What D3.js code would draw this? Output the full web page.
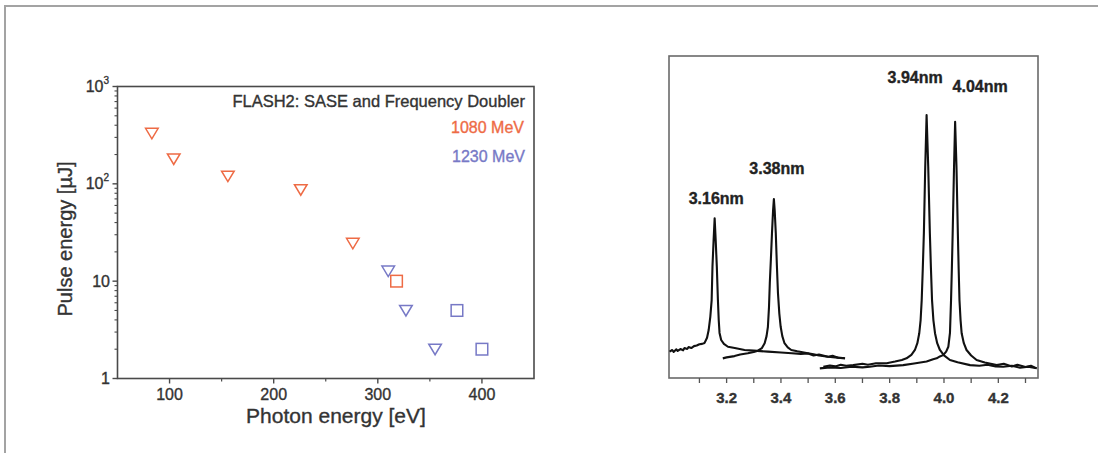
<!DOCTYPE html>
<html><head><meta charset="utf-8">
<script src="https://cdn.jsdelivr.net/npm/d3@7"></script>
<style>
body{margin:0;background:#fff;}
svg{display:block;font-family:"Liberation Sans",Arial,Helvetica,sans-serif;}
text{paint-order:stroke;stroke-width:0.35px;}
</style></head>
<body>
<svg id="c" width="1098" height="455"></svg>
<script>
// ---------- Left chart data: pulse energy vs photon energy ----------
const orangeTriX = [83, 104, 156, 226, 276];
const orangeTriY = [330, 180, 120, 87, 24.5];
const orangeSqX = [318];
const orangeSqY = [10];
const blueTriX = [310, 327, 355];
const blueTriY = [12.7, 5.0, 2.0];
const blueSqX = [376, 400];
const blueSqY = [5.0, 2.0];
const leftXTicks = [100, 200, 300, 400];
const leftXMinor = [150, 250, 350];
const leftYTicks = [1, 10, 100, 1000];
const leftYTickLabels = [["1",""], ["10",""], ["10","2"], ["10","3"]];
const legendTitle = "FLASH2: SASE and Frequency Doubler";
const legendSeries = ["1080 MeV", "1230 MeV"];

// ---------- Right chart data: spectra (wavelength nm, intensity a.u.) ----------
const spec316 = [[2.99,8.2],[3.00,8.7],[3.005,8.1],[3.015,8.9],[3.02,8.4],[3.03,9.0],[3.04,8.6],[3.045,9.3],[3.055,9.0],[3.06,9.6],[3.07,9.3],[3.08,9.9],[3.09,10.1],[3.10,10.5],[3.11,10.6],[3.119,10.9],[3.128,12.5],[3.134,14.9],[3.140,19],[3.145,24.2],[3.148,34.6],[3.152,42.5],[3.156,49.6],[3.160,42.5],[3.164,34.6],[3.168,24.2],[3.171,18],[3.174,14.0],[3.180,11.8],[3.19,10.6],[3.205,9.7],[3.23,9.3],[3.266,8.7],[3.30,8.5],[3.352,8.2],[3.40,7.9],[3.44,7.7],[3.473,7.5],[3.50,7.6],[3.52,7.0],[3.54,7.3],[3.573,6.6],[3.59,6.9],[3.61,6.3],[3.634,6.2]];
const spec338 = [[3.186,6.1],[3.20,6.4],[3.229,6.8],[3.25,7.3],[3.278,7.7],[3.30,8.1],[3.315,8.5],[3.33,9.3],[3.340,10.8],[3.347,13],[3.352,15.9],[3.356,22],[3.359,29.5],[3.363,37],[3.367,45.0],[3.371,52],[3.374,55.6],[3.377,52],[3.381,45.0],[3.385,35],[3.389,26.4],[3.394,20],[3.399,15.9],[3.405,13],[3.413,10.8],[3.425,9.5],[3.438,8.7],[3.46,8.3],[3.499,7.7],[3.52,7.4],[3.54,7.0],[3.573,6.6],[3.60,6.4],[3.636,6.1]];
const spec394 = [[3.556,3.5],[3.58,3.9],[3.60,3.6],[3.62,4.1],[3.64,3.8],[3.666,4.0],[3.70,4.4],[3.72,4.1],[3.75,4.6],[3.789,4.6],[3.82,5.1],[3.845,5.6],[3.862,6.1],[3.88,7.2],[3.893,8.7],[3.902,10.8],[3.909,13.9],[3.914,18],[3.918,24.2],[3.922,34],[3.926,45.0],[3.931,65.6],[3.936,81.7],[3.942,65.6],[3.948,45.0],[3.952,34],[3.956,24.2],[3.961,18],[3.967,13.9],[3.975,10.8],[3.985,8.7],[4.00,7.0],[4.022,5.6],[4.05,4.9],[4.096,4.0],[4.13,3.8],[4.16,4.1],[4.19,3.6],[4.218,3.5],[4.25,3.8],[4.28,3.2],[4.31,3.5],[4.341,3.0]];
const spec404 = [[3.543,3.0],[3.58,3.3],[3.62,3.1],[3.66,3.5],[3.70,3.3],[3.727,3.5],[3.76,3.9],[3.80,3.7],[3.850,4.0],[3.89,4.5],[3.936,5.1],[3.96,5.8],[3.973,6.1],[3.985,6.7],[3.997,7.1],[4.008,8.2],[4.016,9.7],[4.022,14.0],[4.026,24.2],[4.029,34],[4.032,45.0],[4.037,65.6],[4.041,79.6],[4.046,65.6],[4.051,45.0],[4.054,34],[4.057,24.2],[4.061,18],[4.065,13.9],[4.073,10.8],[4.083,8.7],[4.10,7.0],[4.120,5.6],[4.15,4.8],[4.194,4.0],[4.22,4.4],[4.25,3.6],[4.27,4.1],[4.30,3.4],[4.32,3.8],[4.341,3.0]];
const peakLabels = ["3.16nm", "3.38nm", "3.94nm", "4.04nm"];
const peakLabelX = [3.162, 3.385, 3.894, 4.133];
const peakLabelV = [54, 63.5, 91.5, 88.8];
const rightMajor = [3.2, 3.4, 3.6, 3.8, 4.0, 4.2];
const rightMinor = [3.1, 3.2, 3.3, 3.4, 3.5, 3.6, 3.7, 3.8, 3.9, 4.0, 4.1, 4.2, 4.3];

const svg = d3.select("#c");
const ORANGE = "#ee6b45", BLUE = "#7779c6";

// outer frame
svg.append("path").attr("d","M5,453 L5,6 L1098,6").attr("fill","none").attr("stroke","#a3a3a3").attr("stroke-width",2);

// ---------- LEFT CHART ----------
const L = {x0:117.5, x1:534, y0:86.5, y1:378.5};
const xL = d3.scaleLinear().domain([50,450]).range([L.x0,L.x1]);
const yL = d3.scaleLog().domain([1,1000]).range([L.y1,L.y0]);
const gL = svg.append("g");
gL.append("rect").attr("x",L.x0).attr("y",L.y0).attr("width",L.x1-L.x0).attr("height",L.y1-L.y0)
  .attr("fill","none").attr("stroke","#4a4a4a").attr("stroke-width",1.6);
gL.selectAll(".xt").data(leftXTicks).enter().append("line")
  .attr("x1",d=>xL(d)).attr("x2",d=>xL(d)).attr("y1",L.y1).attr("y2",L.y1+5).attr("stroke","#4a4a4a").attr("stroke-width",1.4);
gL.selectAll(".xm").data(leftXMinor).enter().append("line")
  .attr("x1",d=>xL(d)).attr("x2",d=>xL(d)).attr("y1",L.y1).attr("y2",L.y1+3).attr("stroke","#4a4a4a").attr("stroke-width",1.2);
gL.selectAll(".xl").data(leftXTicks).enter().append("text")
  .attr("x",d=>xL(d)).attr("y",400).attr("text-anchor","middle").attr("font-size",16).attr("fill","#333").attr("stroke","#333").text(d=>d);
gL.selectAll(".yt").data(leftYTicks).enter().append("line")
  .attr("x1",L.x0-5).attr("x2",L.x0).attr("y1",d=>yL(d)).attr("y2",d=>yL(d)).attr("stroke","#4a4a4a").attr("stroke-width",1.4);
const minors = [];
[1,10,100].forEach(b=>{for(let k=2;k<=9;k++) minors.push(b*k);});
gL.selectAll(".ym").data(minors).enter().append("line")
  .attr("x1",L.x0-3).attr("x2",L.x0).attr("y1",d=>yL(d)).attr("y2",d=>yL(d)).attr("stroke","#4a4a4a").attr("stroke-width",1.1);
leftYTicks.forEach((t,i)=>{
  const lab = leftYTickLabels[i];
  const tx = gL.append("text").attr("x", lab[1] ? 109 : 110).attr("y",yL(t)+5.5).attr("text-anchor","end").attr("font-size",16).attr("fill","#333").attr("stroke","#333");
  tx.append("tspan").text(lab[0]);
  if (lab[1]) tx.append("tspan").attr("font-size",10).attr("dy",-8).text(lab[1]);
});
gL.append("text").attr("x",336).attr("y",423).attr("text-anchor","middle").attr("font-size",21).attr("fill","#333").attr("stroke","#333").text("Photon energy [eV]");
gL.append("text").attr("transform","translate(72,239) rotate(-90)").attr("text-anchor","middle").attr("font-size",20).attr("fill","#333").attr("stroke","#333").text("Pulse energy [µJ]");
gL.append("text").attr("x",525).attr("y",107).attr("text-anchor","end").attr("font-size",16.5).attr("fill","#333").attr("stroke","#333").text(legendTitle);
gL.append("text").attr("x",524).attr("y",133).attr("text-anchor","end").attr("font-size",16).attr("fill",ORANGE).attr("stroke",ORANGE).text(legendSeries[0]);
gL.append("text").attr("x",525).attr("y",162).attr("text-anchor","end").attr("font-size",16).attr("fill",BLUE).attr("stroke",BLUE).text(legendSeries[1]);
const tri = "M-6.3,-5 L6.3,-5 L0,5.5 Z";
function triangles(xs, ys, col){
  gL.selectAll(null).data(xs.map((x,i)=>[x,ys[i]])).enter().append("path")
    .attr("d",tri).attr("transform",d=>`translate(${xL(d[0])},${yL(d[1])})`)
    .attr("fill","none").attr("stroke",col).attr("stroke-width",1.5);
}
function squares(xs, ys, col){
  gL.selectAll(null).data(xs.map((x,i)=>[x,ys[i]])).enter().append("rect")
    .attr("x",d=>xL(d[0])-5.8).attr("y",d=>yL(d[1])-5.8).attr("width",11.6).attr("height",11.6)
    .attr("fill","none").attr("stroke",col).attr("stroke-width",1.5);
}
triangles(orangeTriX, orangeTriY, ORANGE);
triangles(blueTriX, blueTriY, BLUE);
squares(orangeSqX, orangeSqY, ORANGE);
squares(blueSqX, blueSqY, BLUE);

// ---------- RIGHT CHART ----------
const R = {x0:669, x1:1038, y0:56, y1:378};
const xR = d3.scaleLinear().domain([2.988, 4.346]).range([R.x0,R.x1]);
const yR = d3.scaleLinear().domain([0,100]).range([R.y1,R.y0]);
const gR = svg.append("g");
gR.append("rect").attr("x",R.x0).attr("y",R.y0).attr("width",R.x1-R.x0).attr("height",R.y1-R.y0)
  .attr("fill","none").attr("stroke","#6a6a6a").attr("stroke-width",1.6);
gR.selectAll(".rt").data(rightMinor).enter().append("line")
  .attr("x1",d=>xR(d)).attr("x2",d=>xR(d)).attr("y1",R.y1).attr("y2",R.y1+5).attr("stroke","#555").attr("stroke-width",1.3);
gR.selectAll(".rl").data(rightMajor).enter().append("text")
  .attr("x",d=>xR(d)).attr("y",403).attr("text-anchor","middle").attr("font-size",15).attr("font-weight","bold").attr("fill","#333").attr("stroke","#333")
  .text(d=>d.toFixed(1));
const line = d3.line().x(d=>xR(d[0])).y(d=>yR(d[1]));
[spec316, spec338, spec394, spec404].forEach(s=>{
  gR.append("path").attr("d",line(s)).attr("fill","none").attr("stroke","#111").attr("stroke-width",2.1).attr("stroke-linejoin","round");
});
peakLabels.forEach((t,i)=>{
  gR.append("text").attr("x",xR(peakLabelX[i])).attr("y",yR(peakLabelV[i])).attr("text-anchor","middle")
    .attr("font-size",16).attr("font-weight","bold").attr("fill","#222").attr("stroke","#222").text(t);
});
</script>
</body></html>
